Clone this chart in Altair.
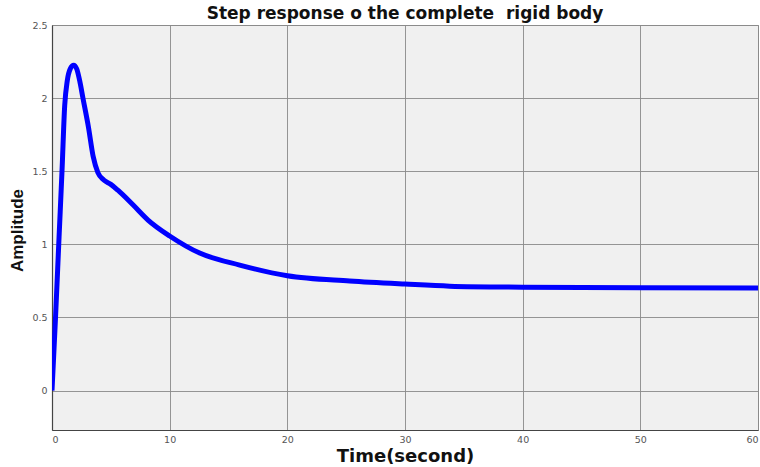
import altair as alt
import pandas as pd

# Step response samples (time in seconds, amplitude)
time_s = [0, 0.3, 0.6, 0.85, 1.08, 1.3, 1.55, 1.84, 2.1, 2.35, 2.63, 3.1, 3.5,
          3.9, 4.4, 5.0, 5.6, 6.88, 8.16, 10, 12.55, 15.95, 20, 25.3, 30, 33.8,
          40, 50, 60]
amplitude = [0, 0.5, 1.05, 1.5, 1.95, 2.12, 2.2, 2.225, 2.2, 2.12, 2.0, 1.8, 1.6,
             1.49, 1.44, 1.41, 1.37, 1.27, 1.166, 1.057, 0.94, 0.858, 0.785,
             0.749, 0.728, 0.714, 0.707, 0.703, 0.702]

x_ticks = [0, 10, 20, 30, 40, 50, 60]
y_ticks = [0, 0.5, 1, 1.5, 2, 2.5]

df = pd.DataFrame({"t": time_s, "amp": amplitude})

line = alt.Chart(df).mark_line(
    color="#0000FF", strokeWidth=5, interpolate="monotone", clip=True
).encode(
    x=alt.X("t:Q",
            scale=alt.Scale(domain=[0, 60], nice=False, zero=False),
            axis=alt.Axis(values=x_ticks, title="Time(second)", format="d",
                          titleFontSize=18, titleFontWeight="bold",
                          titleFont="DejaVu Sans", titleColor="#111",
                          titleX=353, titleY=31, titleBaseline="alphabetic",
                          titleAlign="center", labelPadding=4)),
    y=alt.Y("amp:Q",
            scale=alt.Scale(domain=[-0.27, 2.5], nice=False, zero=False),
            axis=alt.Axis(values=y_ticks, title="Amplitude", format="~g",
                          titleFontSize=17, titleFontWeight="bold",
                          titleFont="Liberation Sans Narrow, Liberation Sans",
                          titleColor="#111", titleX=-35, titleY=205,
                          titleAngle=-90, titleBaseline="middle",
                          titleAlign="center", labelPadding=5)),
)

chart = line.properties(
    width=706,
    height=405,
    title=alt.TitleParams(
        "Step response o the complete \u00a0rigid body",
        fontSize=17, fontWeight="bold", font="DejaVu Sans",
        color="#111", offset=0, dy=3, anchor="middle",
    ),
    autosize=alt.AutoSizeParams(type="none"),
    padding={"left": 52, "top": 25, "right": 2, "bottom": 37},
).configure_view(
    fill="#F0F0F0", stroke="#9a9a9a", strokeWidth=1
).configure_axis(
    grid=True, gridColor="#8a8a8a", gridWidth=1, gridOpacity=0.9,
    domainColor="#444", domainWidth=1.2,
    ticks=False, labelFont="DejaVu Sans", labelFontSize=9.5,
    labelColor="#555",
)

chart.save("out.html", embed_options={"renderer": "svg", "actions": False})
